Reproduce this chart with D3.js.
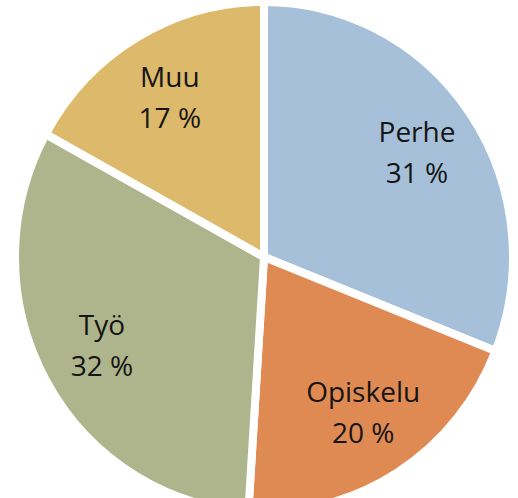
<!DOCTYPE html>
<meta charset="utf-8">
<head>
  <title>Pie</title>
  <style>
    body { margin: 0; background: #fff; }
    #content text {
      font-family: "Open Sans", "Noto Sans", sans-serif;
      font-size: 28px;
      fill: #151515;
    }
  </style>
  <script src="https://d3js.org/d3.v7.min.js"></script>
</head>
<body>
  <div id="content">
    <svg width="518" height="498"></svg>
  </div>
  <script>
var categories = ["Perhe", "Opiskelu", "Työ", "Muu"];
var shares = [31, 20, 32, 17];
var pctLabels = ["31 %", "20 %", "32 %", "17 %"];
var colors = ["#a6c0d9", "#e08a53", "#aeb48b", "#ddb96b"];

var data = categories.map(function(c, i) {
  return { name: c, value: shares[i], pct: pctLabels[i], color: colors[i] };
});

var svg = d3.select("#content svg");
var cx = 264, cy = 257, r = 249;

var pie = d3.pie().sort(null).value(function(d) { return d.value; });
var arcs = pie(data);

var arc = d3.arc().innerRadius(0).outerRadius(r);
var labelArc = d3.arc().innerRadius(185).outerRadius(185);

var slices = svg.append("g")
  .attr("transform", "translate(" + cx + "," + cy + ") scale(1,1.025)");

slices.selectAll("path")
  .data(arcs)
  .enter()
  .append("path")
  .attr("d", arc)
  .attr("fill", function(d) { return d.data.color; })
  .attr("stroke", "#fff")
  .attr("stroke-width", 8)
  .attr("stroke-linejoin", "round");

var labels = svg.append("g")
  .attr("transform", "translate(" + cx + "," + cy + ")");

var lab = labels.selectAll("g")
  .data(arcs)
  .enter()
  .append("g")
  .attr("transform", function(d) { return "translate(" + labelArc.centroid(d) + ")"; });

lab.append("text")
  .attr("text-anchor", "middle")
  .attr("y", -11)
  .text(function(d) { return d.data.name; });

lab.append("text")
  .attr("text-anchor", "middle")
  .attr("y", 30)
  .text(function(d) { return d.data.pct; });
  </script>
</body>
</html>
